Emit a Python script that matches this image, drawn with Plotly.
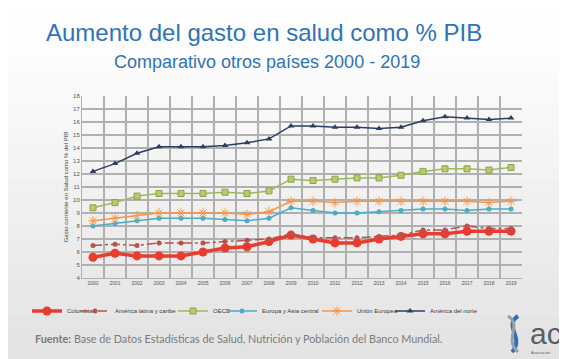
import plotly.graph_objects as go

years = [str(y) for y in range(2000, 2020)]

colombia = [5.6, 5.9, 5.7, 5.7, 5.7, 6.0, 6.3, 6.4, 6.8, 7.3, 7.0, 6.7, 6.7, 7.0, 7.2, 7.4, 7.4, 7.6, 7.6, 7.6]
latam = [6.5, 6.6, 6.5, 6.7, 6.7, 6.7, 6.8, 6.9, 7.0, 7.4, 7.1, 7.1, 7.1, 7.2, 7.3, 7.7, 7.7, 8.0, 7.8, 7.8]
oecd = [9.4, 9.8, 10.3, 10.5, 10.5, 10.5, 10.6, 10.5, 10.7, 11.6, 11.5, 11.6, 11.7, 11.7, 11.9, 12.2, 12.4, 12.4, 12.3, 12.5]
europa_asia = [8.0, 8.2, 8.4, 8.6, 8.6, 8.6, 8.5, 8.4, 8.6, 9.4, 9.2, 9.0, 9.0, 9.1, 9.2, 9.3, 9.3, 9.2, 9.3, 9.3]
ue = [8.4, 8.6, 8.8, 9.0, 9.0, 9.0, 9.0, 8.9, 9.1, 9.9, 9.9, 9.8, 9.9, 9.9, 9.9, 9.9, 9.9, 9.9, 9.8, 9.9]
am_norte = [12.2, 12.8, 13.6, 14.1, 14.1, 14.1, 14.2, 14.4, 14.7, 15.7, 15.7, 15.6, 15.6, 15.5, 15.6, 16.1, 16.4, 16.3, 16.2, 16.3]

y_ticks = list(range(4, 19))

W, H = 567, 359
OFF = 8  # page body offset
# desired plot area in screen pixels: x 82..522, y 96..278
ML = 82 - OFF
MT = 96 - OFF
MR = W - (522 - OFF)
MB = H - (278 - OFF)
W_plot = W - ML - MR
H_plot = H - MT - MB


def px(x):
    return (x - OFF - ML) / W_plot


def py(y):
    return (H - MB - (y - OFF)) / H_plot


fig = go.Figure()

series = [
    ("Colombia", colombia, dict(color="#ea3b2e", width=3.5), dict(symbol="circle", size=9, color="#ea3b2e"), 67),
    ("América latina y caribe", latam, dict(color="#b9514d", width=1.5, dash="dashdot"), dict(symbol="circle", size=5, color="#b9514d"), 115),
    ("OECD", oecd, dict(color="#9bbb59", width=1.5), dict(symbol="square", size=6, color="#b8cc6a", line=dict(color="#8aa44a", width=1)), 213),
    ("Europa y Asia central", europa_asia, dict(color="#4bacc6", width=1.5), dict(symbol="circle", size=5, color="#4bacc6"), 262),
    ("Unión Europea", ue, dict(color="#f79646", width=1.5), dict(symbol="asterisk-open", size=8, color="#f79646", line=dict(color="#f79646", width=1)), 357),
    ("América del norte", am_norte, dict(color="#2e3d66", width=1.5), dict(symbol="triangle-up", size=6, color="#2e3d66"), 430),
]

legends = {}
for i, (name, vals, line, marker, text_x) in enumerate(series):
    lname = "legend" if i == 0 else f"legend{i+1}"
    fig.add_trace(go.Scatter(x=years, y=vals, name=name, mode="lines+markers", line=line, marker=marker,
                             legend=lname))
    legends[lname] = dict(orientation="h", x=px(text_x - 40), xanchor="left", y=py(311), yanchor="middle",
                          font=dict(size=6, color="#3a3a3a"), itemwidth=30, bgcolor="rgba(0,0,0,0)",
                          borderwidth=0)

# background gradient (slide)
shapes = []
n = 24
for k in range(n):
    t0 = k / n
    t1 = (k + 1) / n
    g = int(round(0xe2 + (0xfd - 0xe2) * min(1.0, (t0 + t1) / 2 / 0.85)))
    c = f"#{g:02x}{g:02x}{g:02x}"
    shapes.append(dict(type="rect", xref="paper", yref="paper",
                       x0=px(0), x1=px(W + OFF), y0=py(H - t0 * H), y1=py(H - t1 * H),
                       layer="below", fillcolor=c, line=dict(width=0)))

# logo helix (decorative)
shapes.append(dict(type="path", xref="paper", yref="paper",
                   path=f"M {px(518)},{py(316)} C {px(503)},{py(326)} {px(525)},{py(338)} {px(512)},{py(352)}",
                   line=dict(color="#2f6fb5", width=4), layer="above"))
shapes.append(dict(type="path", xref="paper", yref="paper",
                   path=f"M {px(508)},{py(316)} C {px(523)},{py(326)} {px(503)},{py(338)} {px(518)},{py(352)}",
                   line=dict(color="#9aa0a8", width=3), layer="above"))

layout = dict(
    width=W, height=H,
    margin=dict(l=ML, r=MR, t=MT, b=MB, autoexpand=False),
    paper_bgcolor="#f4f4f4",
    plot_bgcolor="#fafafa",
    font=dict(family="Liberation Sans, Arial, sans-serif", color="#555555"),
    showlegend=True,
    xaxis=dict(type="category", tickson="boundaries", range=[-0.5, len(years) - 0.5],
               showgrid=True, gridcolor="#b0b0b0", gridwidth=1.5,
               tickfont=dict(size=5, color="#555555"), showline=True, linecolor="#b0b0b0", ticks="",
               automargin=False),
    yaxis=dict(range=[4, 18], tickvals=y_ticks, showgrid=True, gridcolor="#b0b0b0", gridwidth=1.5,
               tickfont=dict(size=6, color="#555555"), zeroline=False, showline=True, linecolor="#b0b0b0",
               automargin=False,
               title=dict(text="Gasto corriente en Salud como % del PIB", font=dict(size=6, color="#444444"),
                          standoff=4)),
    shapes=shapes,
)
layout.update(legends)
fig.update_layout(**layout)

fig.add_annotation(text="Aumento del gasto en salud como % PIB", x=px(264), y=py(33), xref="paper", yref="paper",
                   showarrow=False, font=dict(family="Liberation Sans, Arial", size=24, color="#2f73b9"),
                   xanchor="center", yanchor="middle")
fig.add_annotation(text="Comparativo otros países 2000 - 2019", x=px(267), y=py(62), xref="paper", yref="paper",
                   showarrow=False, font=dict(family="Liberation Sans, Arial", size=18, color="#2f73b9"),
                   xanchor="center", yanchor="middle")
fig.add_annotation(text="<b>Fuente:</b> Base de Datos Estadísticas de Salud, Nutrición y Población del Banco Mundial.",
                   x=px(33), y=py(338), xref="paper", yref="paper", showarrow=False,
                   font=dict(family="Lato, Open Sans, sans-serif", size=10.8, color="#7a7a7a"),
                   xanchor="left", yanchor="middle")
fig.add_annotation(text="ac", x=px(528), y=py(333), xref="paper", yref="paper", showarrow=False,
                   font=dict(family="Liberation Sans, Arial", size=30, color="#5a5f66"),
                   xanchor="left", yanchor="middle")
fig.add_annotation(text="Asociación", x=px(529), y=py(352), xref="paper", yref="paper", showarrow=False,
                   font=dict(family="Liberation Sans, Arial", size=4, color="#5a5f66"),
                   xanchor="left", yanchor="middle")

fig.write_html("out.html")
